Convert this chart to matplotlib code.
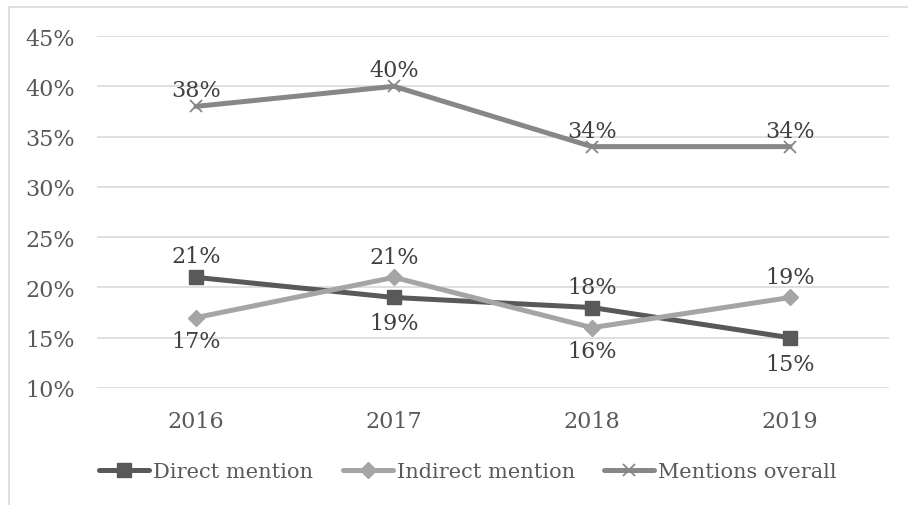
import matplotlib.pyplot as plt
from matplotlib.lines import Line2D
from matplotlib.ticker import FuncFormatter

plt.rcParams.update({
    "font.family": ["DejaVu Serif"],
    "font.size": 16,
})

years = ["2016", "2017", "2018", "2019"]
direct = [21, 19, 18, 15]
indirect = [17, 21, 16, 19]
overall = [38, 40, 34, 34]

# label placement per point: +1 above, -1 below
direct_pos = [1, -1, 1, -1]
indirect_pos = [-1, 1, -1, 1]
overall_pos = [1, 1, 1, 1]

DARK = "#595959"
LIGHT = "#a5a5a5"
MID = "#878787"
TEXT = "#404040"
GRID = "#d9d9d9"

fig = plt.figure(figsize=(9.08, 5.06), dpi=100)
ax = fig.add_axes([97 / 908, 117 / 506, 792 / 908, 352 / 506])

x = range(len(years))
# name, values, label side, colour, marker, size, edge width, offset up / down (px)
series = [
    ("Direct mention", direct, direct_pos, DARK, "s", 10, 1, 21, 26),
    ("Indirect mention", indirect, indirect_pos, LIGHT, "D", 8, 1, 20, 23),
    ("Mentions overall", overall, overall_pos, MID, "x", 9, 1.3, 16, 20),
]
for name, vals, pos, col, mk, ms, mew, up, down in series:
    ax.plot(x, vals, color=col, lw=3.6, marker=mk, ms=ms, mew=mew,
            mec=col, mfc=col, solid_capstyle="round", zorder=3)
    for xi, v, p in zip(x, vals, pos):
        off = up if p > 0 else -down
        ax.annotate(f"{v}%", (xi, v), xytext=(0, off * 0.72), textcoords="offset points",
                    ha="center", va="center", color=TEXT, fontsize=16, zorder=4)

ax.set_xlim(-0.5, 3.5)
ax.set_ylim(10, 45)
ax.set_yticks(range(10, 46, 5))
ax.yaxis.set_major_formatter(FuncFormatter(lambda v, _: f"{v:.0f}%"))
ax.set_xticks(list(x))
ax.set_xticklabels(years)
ax.grid(axis="y", color=GRID, lw=1.2)
ax.set_axisbelow(True)
for s in ax.spines.values():
    s.set_visible(False)
ax.tick_params(length=0, colors=DARK, labelsize=16)
ax.tick_params(axis="y", pad=16)
ax.tick_params(axis="x", pad=16)

handles = [Line2D([], [], color=s[3], lw=3.6, marker=s[4], ms=s[5], mew=s[6], mec=s[3], mfc=s[3],
                  solid_capstyle="round")
           for s in series]
leg = fig.legend(handles, [s[0] for s in series], loc="center", bbox_to_anchor=(468 / 908, 1 - 473 / 506),
                 ncol=3, frameon=False, handlelength=2.4, handletextpad=0.2, columnspacing=1.4,
                 prop={"family": "DejaVu Serif", "size": 15})
for t in leg.get_texts():
    t.set_color(DARK)

# chart area border (only top and left edges fall inside the picture)
fig.add_artist(Line2D([9 / 908, 9 / 908], [0, 1 - 8 / 506], color=GRID, lw=1.2))
fig.add_artist(Line2D([9 / 908, 1], [1 - 8 / 506, 1 - 8 / 506], color=GRID, lw=1.2))

fig.savefig("out.png", dpi=100)
